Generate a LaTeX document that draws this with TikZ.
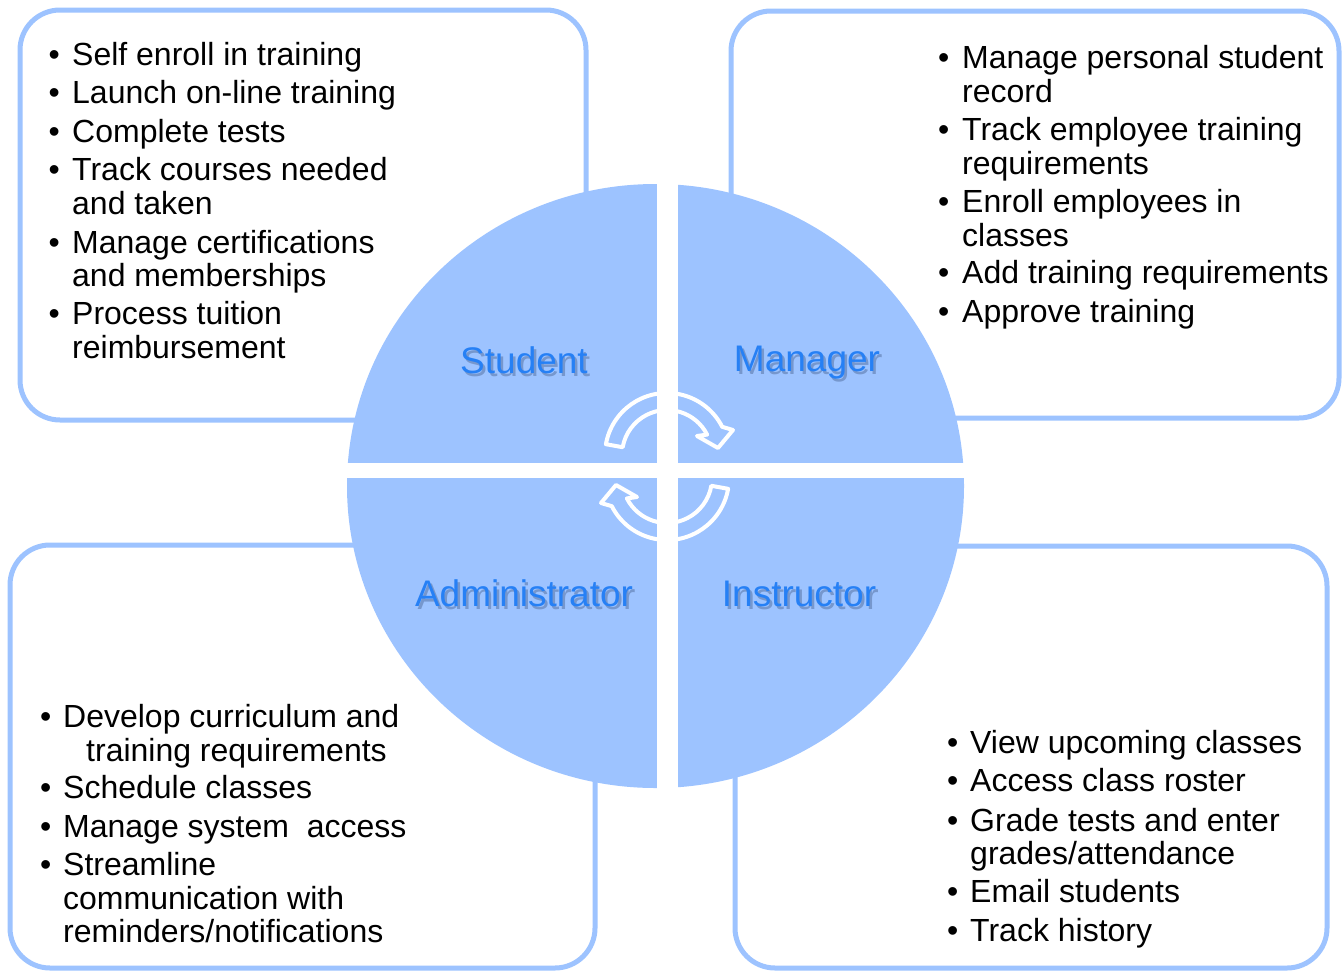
\documentclass[tikz,border=0pt]{standalone}
\usepackage{fontspec}
\setmainfont{Liberation Sans}
\definecolor{qblue}{RGB}{157,195,255}
\definecolor{lblue}{RGB}{38,128,245}
\definecolor{shd}{RGB}{60,85,130}
\begin{document}
\begin{tikzpicture}[x=1pt,y=-1pt,
  box/.style={draw=qblue,line width=5pt,rounded corners=40pt,fill=white},
  txt/.style={anchor=base west,inner sep=0pt,font=\fontsize{32}{38}\selectfont},
  role/.style={anchor=base,inner sep=0pt,font=\fontsize{37}{40}\selectfont,text=lblue},
  roleshadow/.style={anchor=base,inner sep=0pt,font=\fontsize{37}{40}\selectfont,text=shd,opacity=0.4},
  cyc/.style={draw=white,line width=4pt,line join=round}]
\useasboundingbox (0,0) rectangle (1343,972);
% boxes
\draw[box] (20,10) rectangle (586,420);
\draw[box] (731,11) rectangle (1339,418);
\draw[box] (10,545) rectangle (595,968);
\draw[box] (735,546) rectangle (1327,968);
% circle
\fill[qblue] (655.5,486) ellipse [x radius=308.5, y radius=302];
\fill[white] (657,178) rectangle (678,794);
\fill[white] (340,463) rectangle (972,478);
% cycle arrows
\draw[cyc] (605.9,444.2) arc[start angle=190,end angle=333,radius=62]
  -- (733,430) -- (718,448) -- (697,436) -- (707.1,434.6)
  arc[start angle=333,end angle=190,radius=45] -- cycle;
\begin{scope}[rotate around={180:(667,466.5)}]
\draw[cyc] (605.9,444.2) arc[start angle=190,end angle=333,radius=62]
  -- (733,430) -- (718,448) -- (697,436) -- (707.1,434.6)
  arc[start angle=333,end angle=190,radius=45] -- cycle;
\end{scope}
% role labels
\node[roleshadow] (s0) at (526.5,376) {Student};
\node[role] (s) at (524,373) {Student};
\node[roleshadow] (m0) at (809.5,374) {Manager};
\node[role] (m) at (807,371) {Manager};
\node[roleshadow] (a0) at (526.5,609) {Administrator};
\node[role] (a) at (524,606) {Administrator};
\node[roleshadow] (i0) at (801.5,609) {Instructor};
\node[role] (i) at (799,606) {Instructor};
% top-left list
\foreach \y/\n in {65/1,103/2,142/3,180/4,253/5,324/6}
  \node[txt] (tlb\n) at (48.5,\y) {\textbullet};
\node[txt] (tl1) at (72,65) {Self enroll in training};
\node[txt] (tl2) at (72,103) {Launch on-line training};
\node[txt] (tl3) at (72,142) {Complete tests};
\node[txt] (tl4) at (72,180) {Track courses needed};
\node[txt] (tl4b) at (72,214) {and taken};
\node[txt] (tl5) at (72,253) {Manage certifications};
\node[txt] (tl5b) at (72,286) {and memberships};
\node[txt] (tl6) at (72,324) {Process tuition};
\node[txt] (tl6b) at (72,358) {reimbursement};
% top-right list
\foreach \y/\n in {68/1,140/2,212/3,283/4,322/5}
  \node[txt] (trb\n) at (938,\y) {\textbullet};
\node[txt] (tr1) at (962,68) {Manage personal student};
\node[txt] (tr1b) at (962,102) {record};
\node[txt] (tr2) at (962,140) {Track employee training};
\node[txt] (tr2b) at (962,174) {requirements};
\node[txt] (tr3) at (962,212) {Enroll employees in};
\node[txt] (tr3b) at (962,246) {classes};
\node[txt] (tr4) at (962,283) {Add training requirements};
\node[txt] (tr5) at (962,322) {Approve training};
% bottom-left list
\foreach \y/\n in {727/1,798/2,837/3,875/4}
  \node[txt] (blb\n) at (40,\y) {\textbullet};
\node[txt] (bl1) at (63,727) {Develop curriculum and};
\node[txt] (bl1b) at (86,761) {training requirements};
\node[txt] (bl2) at (63,798) {Schedule classes};
\node[txt] (bl3) at (63,837) {Manage system\ \ access};
\node[txt] (bl4) at (63,875) {Streamline};
\node[txt] (bl4b) at (63,909) {communication with};
\node[txt] (bl4c) at (63,942) {reminders/notifications};
% bottom-right list
\foreach \y/\n in {753/1,791/2,831/3,902/4,941/5}
  \node[txt] (brb\n) at (947,\y) {\textbullet};
\node[txt] (br1) at (970,753) {View upcoming classes};
\node[txt] (br2) at (970,791) {Access class roster};
\node[txt] (br3) at (970,831) {Grade tests and enter};
\node[txt] (br3b) at (970,864) {grades/attendance};
\node[txt] (br4) at (970,902) {Email students};
\node[txt] (br5) at (970,941) {Track history};
\end{tikzpicture}
\end{document}
